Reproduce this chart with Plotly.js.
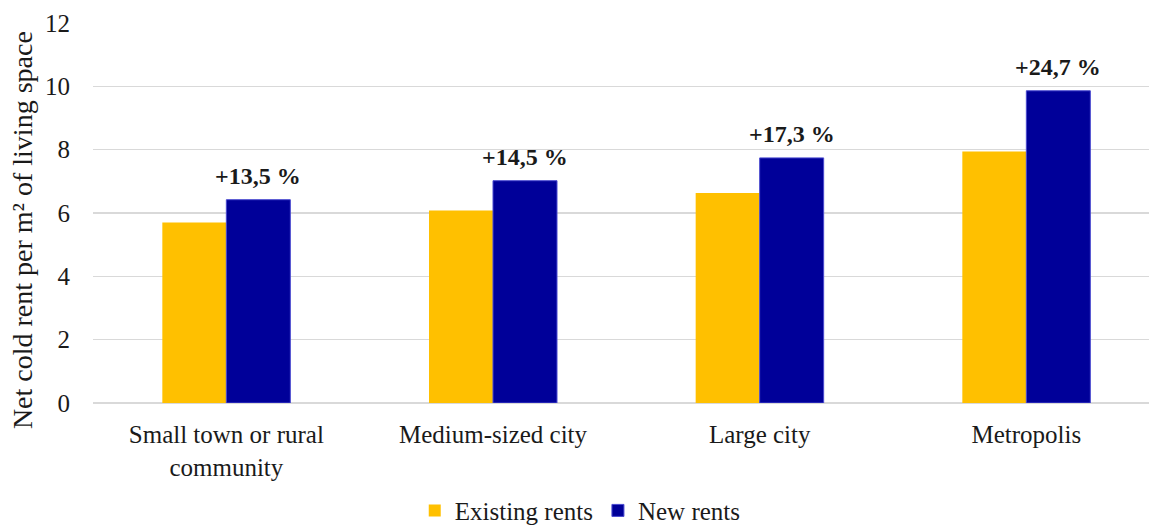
<!DOCTYPE html>
<html>
<head>
<meta charset="utf-8">
<script src="https://cdn.plot.ly/plotly-3.0.1.min.js"></script>
<style>html,body{margin:0;padding:0;background:#fff;}#chart{width:1149px;height:527px;}</style>
</head>
<body>
<div id="chart"></div>
<script>
const categories = ['Small town or rural<br>community', 'Medium-sized city', 'Large city', 'Metropolis'];
const existingRents = [5.70, 6.08, 6.63, 7.94];
const newRents = [6.42, 7.02, 7.74, 9.86];
const changeLabels = ['+13,5 %', '+14,5 %', '+17,3 %', '+24,7 %'];
const yTicks = [0, 2, 4, 6, 8, 10, 12];
const yTitle = 'Net cold rent per m² of living space';

const FONT = 'Liberation Serif';
const TXT = '#1a1a1a';
const BARGAP = 0.52;
const newOffset = (1 - BARGAP) / 4;

const traces = [
  {
    type: 'bar', name: 'Existing rents', x: categories, y: existingRents,
    marker: {color: '#FFC000', line: {color: '#FFC000', width: 0}},
    hoverinfo: 'none'
  },
  {
    type: 'bar', name: 'New rents', x: categories, y: newRents,
    marker: {color: '#000099', line: {color: '#4a4ad0', width: 1}},
    hoverinfo: 'none'
  }
];

const annotations = changeLabels.map((t, i) => ({
  xref: 'x', yref: 'y', x: i + newOffset, y: newRents[i],
  text: '<b>' + t + '</b>', showarrow: false,
  yanchor: 'bottom', xanchor: 'center', yshift: 9,
  font: {family: FONT, size: 24, color: TXT}
}));

annotations.push({
  xref: 'paper', yref: 'paper', x: 0, y: 0.455,
  xanchor: 'center', yanchor: 'middle', xshift: -71,
  text: yTitle, textangle: -90, showarrow: false,
  font: {family: FONT, size: 28, color: TXT}
});

const layout = {
  width: 1149, height: 527,
  margin: {l: 93, r: 0, t: 23, b: 124},
  paper_bgcolor: '#fff', plot_bgcolor: '#fff',
  font: {family: FONT, size: 25, color: TXT},
  barmode: 'group', bargap: BARGAP, bargroupgap: 0,
  showlegend: true,
  legend: {
    orientation: 'h', xref: 'container', yref: 'container',
    x: 0.505, xanchor: 'center', y: 0.031, yanchor: 'middle',
    font: {family: FONT, size: 25, color: TXT},
    itemwidth: 30, traceorder: 'normal'
  },
  xaxis: {
    type: 'category', range: [-0.5, 3.46], fixedrange: true,
    showgrid: false, showline: false, zeroline: false,
    ticks: '', ticklabelstandoff: 14,
    tickfont: {family: FONT, size: 25, color: TXT}
  },
  yaxis: {
    range: [0, 12], tickvals: yTicks, ticktext: yTicks.map(String),
    showgrid: true, gridcolor: '#d9d9d9', gridwidth: 1.3,
    zeroline: true, zerolinecolor: '#d9d9d9', zerolinewidth: 1.3,
    showline: false, ticks: '', ticklabelstandoff: 22,
    tickfont: {family: FONT, size: 25, color: TXT}
  },
  annotations: annotations
};

Plotly.newPlot('chart', traces, layout, {displayModeBar: false, staticPlot: true});
</script>
</body>
</html>
